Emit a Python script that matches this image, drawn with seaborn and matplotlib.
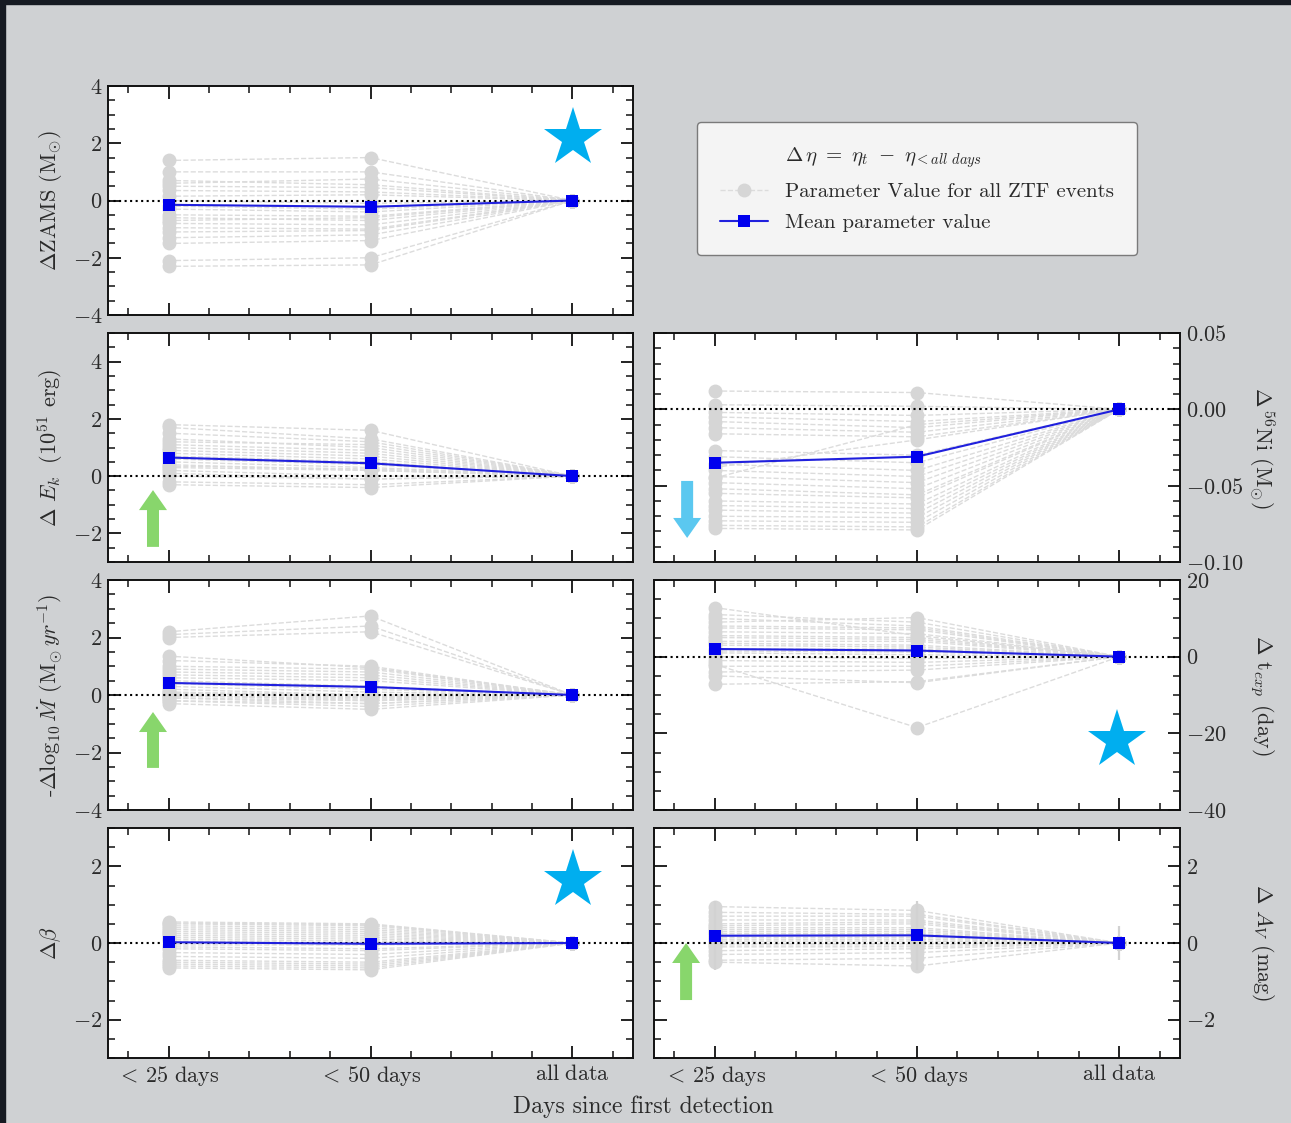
import numpy as np
import pandas as pd
import matplotlib
matplotlib.use("Agg")
import matplotlib.pyplot as plt
import matplotlib.patches as mpatches
from matplotlib.lines import Line2D
from matplotlib.ticker import MultipleLocator, FixedLocator
import seaborn as sns

# ---------------------------------------------------------------- data
epochs = [r"${<}\,\mathrm{25\ days}$", r"${<}\,\mathrm{50\ days}$", r"$\mathrm{all\ data}$"]
epoch_pos = [0, 1, 2]

# Delta ZAMS mass (Msun) per event for the <25 d and <50 d fits
zams_lt25 = [1.4, 1.0, 0.7, 0.5, 0.35, 0.15, 0.0, -0.2, -0.3, -0.5, -0.7, -0.8,
             -0.95, -1.1, -1.3, -1.5, -2.1, -2.3, 0.6, -0.6]
zams_lt50 = [1.5, 1.0, 0.55, 0.45, 0.3, 0.2, -0.1, -0.3, -0.4, -0.55, -0.6, -0.85,
             -1.0, -1.05, -1.2, -1.4, -2.0, -2.25, 0.75, -0.7]
zams_mean = [-0.15, -0.22, 0.0]

# Delta kinetic energy (1e51 erg)
ek_lt25 = [1.8, 1.7, 1.5, 1.3, 1.2, 1.0, 0.9, 0.8, 0.7, 0.6, 0.5, 0.4, 0.3, 0.2,
           0.1, 0.0, -0.2, -0.3, 1.1, 0.35]
ek_lt50 = [1.6, 1.3, 1.2, 1.0, 1.1, 0.8, 0.7, 0.6, 0.5, 0.4, 0.3, 0.2, 0.2, 0.0,
           -0.1, -0.1, -0.3, -0.4, 0.9, 0.25]
ek_mean = [0.65, 0.45, 0.0]

# Delta 56Ni mass (Msun)
ni_lt25 = [0.012, 0.003, -0.002, -0.005, -0.008, -0.012, -0.016, -0.027, -0.031,
           -0.036, -0.040, -0.044, -0.048, -0.052, -0.055, -0.060, -0.063, -0.066,
           -0.070, -0.073, -0.076, -0.078, -0.038, -0.045]
ni_lt50 = [0.011, 0.002, -0.004, -0.008, -0.012, -0.015, -0.018, -0.030, -0.035,
           -0.040, -0.044, -0.048, -0.052, -0.056, -0.058, -0.062, -0.065, -0.068,
           -0.071, -0.074, -0.077, -0.079, -0.020, -0.010]
ni_mean = [-0.035, -0.031, 0.0]

# -Delta log10 mass-loss rate (Msun / yr)
mdot_lt25 = [2.2, 2.1, 2.0, 1.35, 1.2, 1.0, 0.9, 0.8, 0.7, 0.6, 0.5, 0.4, 0.3,
             0.2, 0.1, 0.0, -0.1, -0.2, -0.3, 0.05, -0.05, 0.0, -0.1, 0.1, -0.2]
mdot_lt50 = [2.75, 2.4, 2.2, 0.95, 1.0, 0.9, 0.8, 0.7, 0.6, 0.5, 0.3, 0.2, 0.1,
             0.0, -0.1, -0.2, -0.3, -0.4, -0.5, -0.05, -0.1, -0.15, -0.2, 0.0, -0.3]
mdot_mean = [0.42, 0.28, 0.0]

# Delta explosion epoch (day)
texp_lt25 = [12.8, 11.0, 9.0, 7.5, 6.5, 5.5, 5.0, 4.0, 3.5, 3.0, 2.0, 1.5, 1.0,
             0.0, -1.0, -2.0, -2.5, -4.0, -5.0, -7.2, 10.0, 8.0]
texp_lt50 = [5.5, 9.0, 10.2, 7.0, 6.0, 5.0, 4.5, 4.0, 3.0, 2.5, 2.0, 1.2, 0.5,
             -0.5, -1.5, -18.5, -2.5, -3.5, -6.8, -6.5, 8.0, 7.5]
texp_mean = [2.0, 1.6, 0.0]

# Delta beta
beta_lt25 = [0.55, 0.5, 0.45, 0.4, 0.35, 0.3, 0.25, 0.2, 0.15, 0.1, 0.05, -0.05,
             -0.1, -0.15, -0.25, -0.35, -0.45, -0.5, -0.55, -0.6, -0.65, 0.52]
beta_lt50 = [0.5, 0.45, 0.4, 0.35, 0.3, 0.25, 0.2, 0.15, 0.1, 0.05, 0.0, -0.05,
             -0.15, -0.2, -0.3, -0.4, -0.5, -0.55, -0.6, -0.65, -0.7, 0.48]
beta_mean = [0.02, -0.02, 0.0]

# Delta A_V (mag)
av_lt25 = [0.95, 0.8, 0.7, 0.6, 0.5, 0.45, 0.4, 0.35, 0.3, 0.25, 0.2, 0.15, 0.1,
           0.05, 0.0, -0.05, -0.1, -0.2, -0.3, -0.45, -0.5]
av_lt50 = [0.85, 0.75, 0.7, 0.6, 0.55, 0.5, 0.4, 0.35, 0.3, 0.25, 0.2, 0.15, 0.1,
           0.05, 0.0, -0.05, -0.1, -0.15, -0.25, -0.4, -0.6]
av_mean = [0.19, 0.20, 0.0]
av_err = [0.9, 0.9, 0.45]

# ---------------------------------------------------------------- style
sns.set_theme(style="ticks")
plt.rcParams.update({
    "font.family": "serif",
    "font.serif": ["cmr10"],
    "mathtext.fontset": "cm",
    "axes.formatter.use_mathtext": True,
    "axes.unicode_minus": True,
    "text.color": "#2a2a2a",
    "axes.labelcolor": "#2a2a2a",
    "xtick.color": "#111111",
    "ytick.color": "#111111",
    "xtick.labelcolor": "#2a2a2a",
    "ytick.labelcolor": "#2a2a2a",
    "axes.edgecolor": "#111111",
    "axes.linewidth": 1.4,
})

BG = "#cfd1d3"
GREY_PT = "#d6d6d6"
GREY_LN = "#dcdcdc"
BLUE = "#0000ee"
STAR = "#00aeef"
GREEN = "#88d66c"
SKY = "#5bc8f0"

W, H = 1291, 1123
fig = plt.figure(figsize=(W / 100, H / 100), dpi=100, facecolor=BG)

# dark frame strips along top and left edge
fig.patches.append(mpatches.Rectangle((0, 1 - 4 / H), 1, 4 / H, transform=fig.transFigure,
                                      color="#161a22", zorder=0))
fig.patches.append(mpatches.Rectangle((0, 0), 5 / W, 1, transform=fig.transFigure,
                                      color="#161a22", zorder=0))


def px_axes(x0, y0, x1, y1):
    return fig.add_axes([x0 / W, 1 - y1 / H, (x1 - x0) / W, (y1 - y0) / H])


LEFT = (108, 633)
RIGHT = (654, 1180)
ROWS = [(86, 315), (333, 562), (580, 810), (828, 1058)]


def event_frame(lt25, lt50):
    rows = []
    for i, (a, b) in enumerate(zip(lt25, lt50)):
        rows += [(i, epoch_pos[0], a), (i, epoch_pos[1], b), (i, epoch_pos[2], 0.0)]
    return pd.DataFrame(rows, columns=["event", "epoch", "delta"])


def draw_panel(ax, lt25, lt50, mean, ylim, major, minor, ylabel, side, xlabels=False,
               err=None):
    df = event_frame(lt25, lt50)
    sns.lineplot(data=df, x="epoch", y="delta", units="event", estimator=None,
                 color=GREY_LN, linestyle="--", lw=1.0, marker="o", markersize=10,
                 markerfacecolor=GREY_PT, markeredgewidth=0, legend=False, ax=ax,
                 zorder=1)
    if err is not None:
        ax.errorbar(epoch_pos, mean, yerr=err, fmt="none", ecolor="#d2d2d2",
                    elinewidth=1.6, zorder=1.5)
    ax.axhline(0, color="black", ls=":", lw=1.5, zorder=3)
    sns.lineplot(x=epoch_pos, y=mean, color="#2020dd", lw=1.5, marker="s",
                 markersize=9, markerfacecolor=BLUE, markeredgewidth=0, ax=ax,
                 zorder=5)
    ax.set_xlim(-0.3, 2.3)
    ax.set_ylim(*ylim)
    ax.xaxis.set_major_locator(FixedLocator(epoch_pos))
    ax.xaxis.set_minor_locator(MultipleLocator(0.2))
    ax.yaxis.set_major_locator(MultipleLocator(major))
    ax.yaxis.set_minor_locator(MultipleLocator(minor))
    ax.set_xlabel("")
    if xlabels:
        ax.set_xticklabels(epochs, fontsize=16)
    else:
        ax.set_xticklabels([])
    ax.tick_params(which="both", direction="in", top=True, bottom=True,
                   left=True, right=True)
    ax.tick_params(which="major", length=9, width=1.3, labelsize=16, pad=4)
    ax.tick_params(which="minor", length=5, width=1.1)
    ax.set_facecolor("white")
    if side == "right":
        ax.tick_params(labelleft=False, labelright=True)
        ax.yaxis.set_label_position("right")
        ax.set_ylabel(ylabel, fontsize=16, rotation=270, va="center")
        ax.yaxis.set_label_coords(1.156, 0.5)
    else:
        ax.set_ylabel(ylabel, fontsize=16, va="center")
        ax.yaxis.set_label_coords(-0.11, 0.5)


def star(ax, fx, fy):
    ax.plot([fx], [fy], marker="*", markersize=44, color=STAR, markeredgewidth=0,
            transform=ax.transAxes, zorder=6, clip_on=False)


def arrow(ax, fx, fy0, fy1, color, wpx, ypx):
    length = fy1 - fy0
    head = 20 / ypx * np.sign(length)
    ax.add_patch(mpatches.FancyArrow(fx, fy0, 0, length, width=12 / wpx,
                                     head_width=28 / wpx, head_length=abs(head),
                                     length_includes_head=True, color=color,
                                     lw=0, transform=ax.transAxes, zorder=6))


# ---------------------------------------------------------------- panels
ax_zams = px_axes(LEFT[0], ROWS[0][0], LEFT[1], ROWS[0][1])
draw_panel(ax_zams, zams_lt25, zams_lt50, zams_mean, (-4, 4), 2, 0.5,
           r"$\Delta$ZAMS (M$_{\odot}$)", "left")
star(ax_zams, 0.886, 0.775)

ax_ek = px_axes(LEFT[0], ROWS[1][0], LEFT[1], ROWS[1][1])
draw_panel(ax_ek, ek_lt25, ek_lt50, ek_mean, (-3, 5), 2, 0.5,
           r"$\Delta\ E_k\ \ (10^{51}$ erg)", "left")
arrow(ax_ek, 0.0857, 0.066, 0.314, GREEN, 525, 229)

ax_ni = px_axes(RIGHT[0], ROWS[1][0], RIGHT[1], ROWS[1][1])
draw_panel(ax_ni, ni_lt25, ni_lt50, ni_mean, (-0.1, 0.05), 0.05, 0.01,
           r"$\Delta\,{}^{56}$Ni (M$_{\odot}$)", "right")
arrow(ax_ni, 0.063, 0.354, 0.105, SKY, 526, 229)

ax_mdot = px_axes(LEFT[0], ROWS[2][0], LEFT[1], ROWS[2][1])
draw_panel(ax_mdot, mdot_lt25, mdot_lt50, mdot_mean, (-4, 4), 2, 0.5,
           r"-$\Delta$log$_{10}\,\dot{M}$ (M$_{\odot}\,yr^{-1}$)", "left")
arrow(ax_mdot, 0.0857, 0.183, 0.426, GREEN, 525, 230)

ax_texp = px_axes(RIGHT[0], ROWS[2][0], RIGHT[1], ROWS[2][1])
draw_panel(ax_texp, texp_lt25, texp_lt50, texp_mean, (-40, 20), 20, 5,
           r"$\Delta$ t$_{exp}$ (day)", "right")
star(ax_texp, 0.880, 0.304)

ax_beta = px_axes(LEFT[0], ROWS[3][0], LEFT[1], ROWS[3][1])
draw_panel(ax_beta, beta_lt25, beta_lt50, beta_mean, (-3, 3), 2, 0.5,
           r"$\Delta\beta$", "left", xlabels=True)
star(ax_beta, 0.886, 0.774)

ax_av = px_axes(RIGHT[0], ROWS[3][0], RIGHT[1], ROWS[3][1])
draw_panel(ax_av, av_lt25, av_lt50, av_mean, (-3, 3), 2, 0.5,
           r"$\Delta\ A_V$ (mag)", "right", xlabels=True, err=av_err)
arrow(ax_av, 0.061, 0.252, 0.50, GREEN, 526, 230)

fig.text(643 / W, 1 - 1107 / H, "Days since first detection", ha="center",
         va="center", fontsize=17)

# ---------------------------------------------------------------- legend
handles = [
    Line2D([], [], linestyle="none", marker=None),
    Line2D([], [], color=GREY_LN, linestyle="--", lw=1.0, marker="o",
           markersize=10, markerfacecolor=GREY_PT, markeredgewidth=0),
    Line2D([], [], color="#2020dd", lw=1.5, marker="s", markersize=9,
           markerfacecolor=BLUE, markeredgewidth=0),
]
labels = [
    r"$\Delta\,\eta\ =\ \eta_t\ -\ \eta_{{<}all\ days}$",
    "Parameter Value for all ZTF events",
    "Mean parameter value",
]
leg = fig.legend(handles, labels, loc="center",
                 bbox_to_anchor=(917 / W, 1 - 188.5 / H), fontsize=15,
                 frameon=True, fancybox=True, facecolor="#f4f4f4",
                 edgecolor="#7a7a7a", framealpha=1.0, borderpad=1.1,
                 labelspacing=0.6, handlelength=2.3, handletextpad=0.8)
leg.get_frame().set_linewidth(1.0)

fig.savefig("out.png", dpi=100, facecolor=BG)
